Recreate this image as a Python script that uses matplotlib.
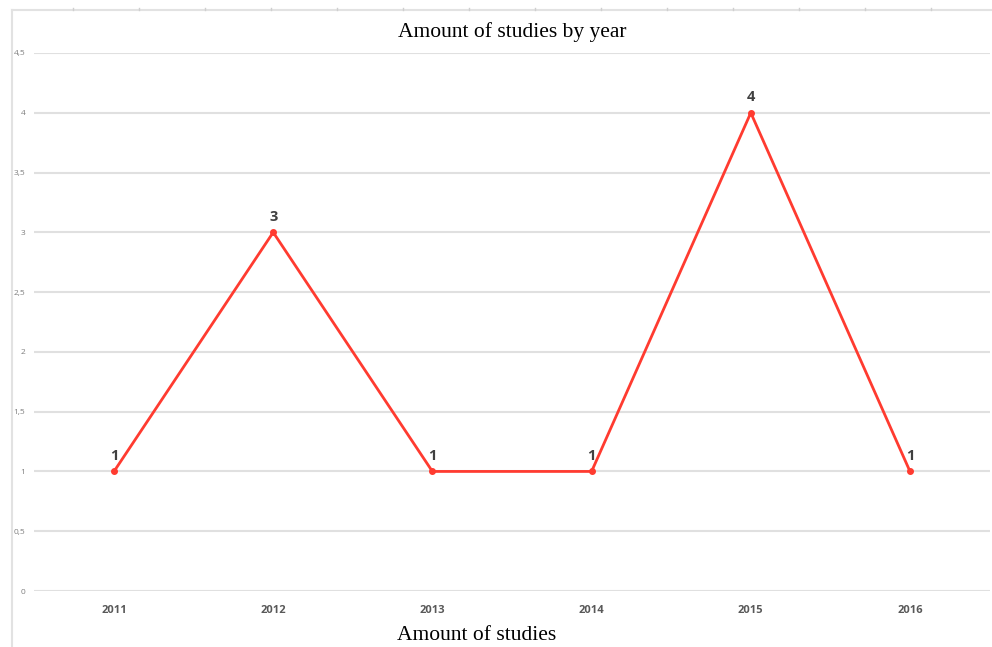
import matplotlib.pyplot as plt
from matplotlib.lines import Line2D
from matplotlib.ticker import FuncFormatter

# Studies per year
years = ['2011', '2012', '2013', '2014', '2015', '2016']
studies = [1, 3, 1, 1, 4, 1]
y_ticks = [0, 0.5, 1, 1.5, 2, 2.5, 3, 3.5, 4, 4.5]

W, H = 992, 647
fig = plt.figure(figsize=(W / 100, H / 100), dpi=100)
fig.patch.set_facecolor('white')

# plot area in pixel units
left, right, bottom, top = 34.4, 989.6, 591, 53
ax = fig.add_axes([left / W, (H - bottom) / H, (right - left) / W, (bottom - top) / H])

x = list(range(len(years)))
ax.plot(x, studies, color='#ff3b30', lw=2, marker='o', ms=4, zorder=3, clip_on=False)
for xi, v in zip(x, studies):
    ax.annotate(str(v), (xi, v), xytext=(0, 6), textcoords='offset points',
                ha='center', va='bottom', fontsize=10.5, fontweight='bold',
                color='#404040', family='Open Sans')

ax.set_xlim(-0.5, len(years) - 0.5)
ax.set_ylim(0, 4.5)
ax.set_xticks(x)
ax.set_xticklabels(years, fontsize=8, fontweight='bold', color='#595959', family='Open Sans')
ax.set_yticks(y_ticks)
ax.yaxis.set_major_formatter(FuncFormatter(lambda v, p: ('%g' % v).replace('.', ',')))
for t in ax.get_yticklabels():
    t.set_fontsize(6)
    t.set_color('#7f7f7f')
    t.set_family('Open Sans')
ax.tick_params(axis='both', length=0)
ax.tick_params(axis='x', pad=10)
ax.tick_params(axis='y', pad=6.5)
ax.grid(axis='y', color='#e0e0e0', lw=1.5)
ax.set_axisbelow(True)
for s in ax.spines.values():
    s.set_visible(False)

fig.text(512 / W, 1 - 32 / H, 'Amount of studies by year', ha='center', va='center',
         fontsize=15.5, family='Liberation Serif', color='black')
fig.text(477 / W, 1 - 635 / H, 'Amount of studies', ha='center', va='center',
         fontsize=15.5, family='Liberation Serif', color='black')

# outer frame of the chart box
fig.add_artist(Line2D([12 / W, 1], [1 - 10 / H, 1 - 10 / H], color='#e2e2e2', lw=1.5))
fig.add_artist(Line2D([12 / W, 12 / W], [0, 1 - 10 / H], color='#e2e2e2', lw=1.5))
for px in range(73, W, 66):
    fig.add_artist(Line2D([px / W, px / W], [1 - 8 / H, 1 - 10 / H], color='#cfcfcf', lw=1))

fig.savefig('out.png', dpi=100)
